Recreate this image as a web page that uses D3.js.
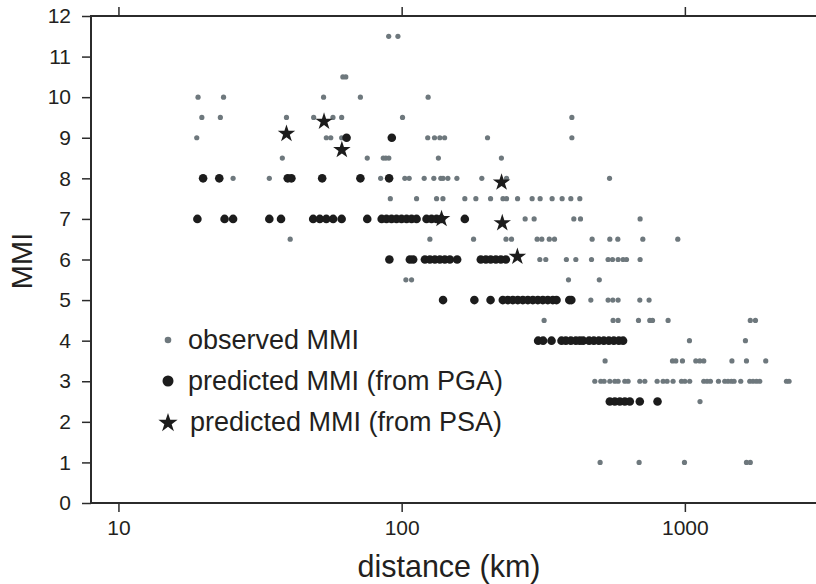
<!DOCTYPE html>
<html>
<head>
<meta charset="utf-8">
<script src="https://cdn.jsdelivr.net/npm/d3@7"></script>
<style>
  body { margin: 0; background: #fff; }
  svg text { font-family: "Liberation Sans", Arial, Helvetica, sans-serif; fill: #231f20; }
</style>
</head>
<body>
<div class="chart"></div>
<script>
// observed MMI (gray), one list of distances (km) per MMI level
const obsLevels = [11.5, 10.5, 10, 9.5, 9, 8.5, 8, 7.5, 7, 6.5, 6, 5.5, 5, 4.5, 4, 3.5, 3, 2.5, 1];
const obsDistances = [
  [90, 97],
  [62, 63.5],
  [19.1, 23.5, 53, 71.5, 124],
  [19.7, 22.9, 39.2, 48.9, 57.2, 61.4, 100.7, 399],
  [18.9, 54.2, 56.2, 61.4, 123.6, 130.6, 136.4, 141.8, 201, 399],
  [37.9, 75.6, 86.1, 87.9, 90.1, 134.8, 225],
  [25.4, 34.1, 84.3, 102.6, 106.3, 120.1, 129.9, 137.5, 140, 145.6, 156.7, 191.9, 234.6, 542],
  [91.2, 112.9, 132.8, 139.9, 167.1, 182.8, 206, 227.9, 234.6, 256.6, 288.9, 308.3, 339.8, 368.6, 395.7, 425.6],
  [272.9, 293.6, 405.4, 428, 694.9],
  [40.4, 125.8, 179.4, 233.6, 244.3, 300.9, 312.5, 332.1, 346.5, 470.4, 543.2, 579.7, 710.4, 944],
  [307.5, 322.8, 381.6, 412.1, 468.1, 535.7, 555.3, 581.1, 605, 622.2, 694.9],
  [103.5, 108.4, 388.2, 498.7],
  [465.5, 535.7, 556.6, 581.1, 693.2, 747.6],
  [318.4, 557.9, 581.1, 685.9, 752, 768.6, 872.5, 1702, 1775],
  [1038, 1636],
  [522.8, 904.2, 928.8, 980.6, 1093, 1129, 1166, 1466, 1650, 1930],
  [480.8, 504.8, 518.6, 543.2, 565.7, 581.1, 613.7, 630.3, 693.2, 722.1, 798, 837.8, 865.4, 908.6,
   972.7, 1000, 1040, 1166, 1198, 1231, 1314, 1383, 1420, 1460, 1492, 1575, 1695, 1741, 1790, 1838, 2284, 2333],
  [1131],
  [502, 689.3, 996.7, 1650, 1702]
];

// predicted MMI from PGA (black dots)
const pgaLevels = [9, 8, 7, 6, 5, 4, 2.5];
const pgaDistances = [
  [63.9, 92.3],
  [19.9, 22.7, 39.6, 40.8, 52.4, 71.5, 90.3],
  [19, 23.7, 25.4, 34.1, 37.5, 48.7, 51.4, 54.2, 57.3, 61.4, 75.6, 85, 88.4, 92.1, 95.9, 99.9,
   104.1, 108.4, 112.9, 122.4, 127.5, 132.8, 138, 167.1],
  [90.5, 106.9, 109.8, 120.8, 125.8, 131, 136.4, 142, 148, 157, 190.3, 198.3, 206.2, 215.1, 224, 233.3],
  [140, 180.6, 206, 227.6, 237.1, 246.9, 257, 267.8, 279, 290.5, 302.6, 315.1, 328.1, 341.8, 352.2, 390.8, 397.3],
  [303.3, 315.8, 338.2, 366.8, 379.9, 395.7, 412.1, 425.6, 437.2, 459, 477, 496.7, 517.3, 538.9, 561.1, 584.5, 605],
  [543.2, 565.7, 589.2, 613.7, 639.1, 693.2, 800.6]
];

// predicted MMI from PSA (stars)
const psaDistances = [39.2, 53.2, 61.5, 138.3, 225.3, 226.6, 256.2];
const psaMMI = [9.1, 9.4, 8.7, 7.0, 7.9, 6.9, 6.07];

const xTicks = [10, 100, 1000];
const yTicks = [0, 1, 2, 3, 4, 5, 6, 7, 8, 9, 10, 11, 12];
const legendLabels = ['observed MMI', 'predicted MMI (from PGA)', 'predicted MMI (from PSA)'];

// flatten level/distance lists into points
function toPoints(levels, distances) {
  return levels.flatMap((m, i) => distances[i].map(d => ({dist: d, mmi: m})));
}

function setupCanvas() {
  const svg_width = 816;
  const svg_height = 584;
  const frame = {left: 91, top: 16, right: 820, bottom: 503};
  const ink = '#2b2b2b';
  const gray = '#6e787d';
  const black = '#1c1c1c';

  const svg = d3.select('.chart').append('svg')
    .attr('width', svg_width).attr('height', svg_height);

  const xScale = d3.scaleLog().domain([8, 3000]).range([frame.left, frame.right]);
  const yScale = d3.scaleLinear().domain([0, 12]).range([frame.bottom, frame.top]);

  const star = d3.symbol().type(d3.symbolStar);

  // observed
  svg.append('g').selectAll('circle')
    .data(toPoints(obsLevels, obsDistances))
    .enter().append('circle')
      .attr('cx', d => xScale(d.dist))
      .attr('cy', d => yScale(d.mmi))
      .attr('r', 2.6)
      .style('fill', gray);

  // predicted from PGA
  svg.append('g').selectAll('circle')
    .data(toPoints(pgaLevels, pgaDistances))
    .enter().append('circle')
      .attr('cx', d => xScale(d.dist))
      .attr('cy', d => yScale(d.mmi))
      .attr('r', 4.3)
      .style('fill', black);

  // predicted from PSA
  svg.append('g').selectAll('path')
    .data(psaDistances.map((d, i) => ({dist: d, mmi: psaMMI[i]})))
    .enter().append('path')
      .attr('transform', d => `translate(${xScale(d.dist)},${yScale(d.mmi)})`)
      .attr('d', star.size(95)())
      .style('fill', black);

  // axes (frame drawn separately)
  const yAxis = d3.axisLeft(yScale).tickValues(yTicks).tickSize(9).tickPadding(11);
  const xAxis = d3.axisBottom(xScale).tickValues(xTicks).tickFormat(d3.format('d')).tickSize(9).tickPadding(8);
  const xTop = d3.axisTop(xScale).tickValues(xTicks).tickFormat('').tickSize(9);

  const yDraw = svg.append('g').attr('transform', `translate(${frame.left},0)`).call(yAxis);
  const xDraw = svg.append('g').attr('transform', `translate(0,${frame.bottom})`).call(xAxis);
  const tDraw = svg.append('g').attr('transform', `translate(0,${frame.top})`).call(xTop);

  [yDraw, xDraw, tDraw].forEach(g => {
    g.select('.domain').remove();
    g.selectAll('line').style('stroke', ink).style('stroke-width', 1.5);
    g.selectAll('text').style('font-size', '21px').style('fill', '#231f20')
      .style('font-family', '"Liberation Sans", Arial, sans-serif');
  });

  svg.append('rect')
    .attr('x', frame.left).attr('y', frame.top)
    .attr('width', frame.right - frame.left).attr('height', frame.bottom - frame.top)
    .style('fill', 'none').style('stroke', ink).style('stroke-width', 2);

  // axis titles
  svg.append('text')
    .attr('x', 449).attr('y', 577)
    .attr('text-anchor', 'middle')
    .style('font-size', '30.5px')
    .text('distance (km)');

  svg.append('text')
    .attr('transform', 'translate(32,261) rotate(-90)')
    .attr('text-anchor', 'middle')
    .style('font-size', '29px')
    .text('MMI');

  // legend
  const legend = svg.append('g').attr('transform', 'translate(168,340)');
  const rowGap = 41;
  legend.append('circle').attr('cx', 0).attr('cy', 0).attr('r', 3.3).style('fill', gray);
  legend.append('circle').attr('cx', 0).attr('cy', rowGap).attr('r', 5.5).style('fill', black);
  legend.append('path')
    .attr('transform', `translate(0,${rowGap * 2 + 1})`)
    .attr('d', star.size(115)())
    .style('fill', black);

  legend.selectAll('.legend-label')
    .data(legendLabels)
    .enter().append('text')
      .attr('class', 'legend-label')
      .attr('x', (d, i) => i === 2 ? 22 : 20)
      .attr('y', (d, i) => i * rowGap + 9)
      .style('font-size', '27px')
      .text(d => d);
}

setupCanvas();
</script>
</body>
</html>
